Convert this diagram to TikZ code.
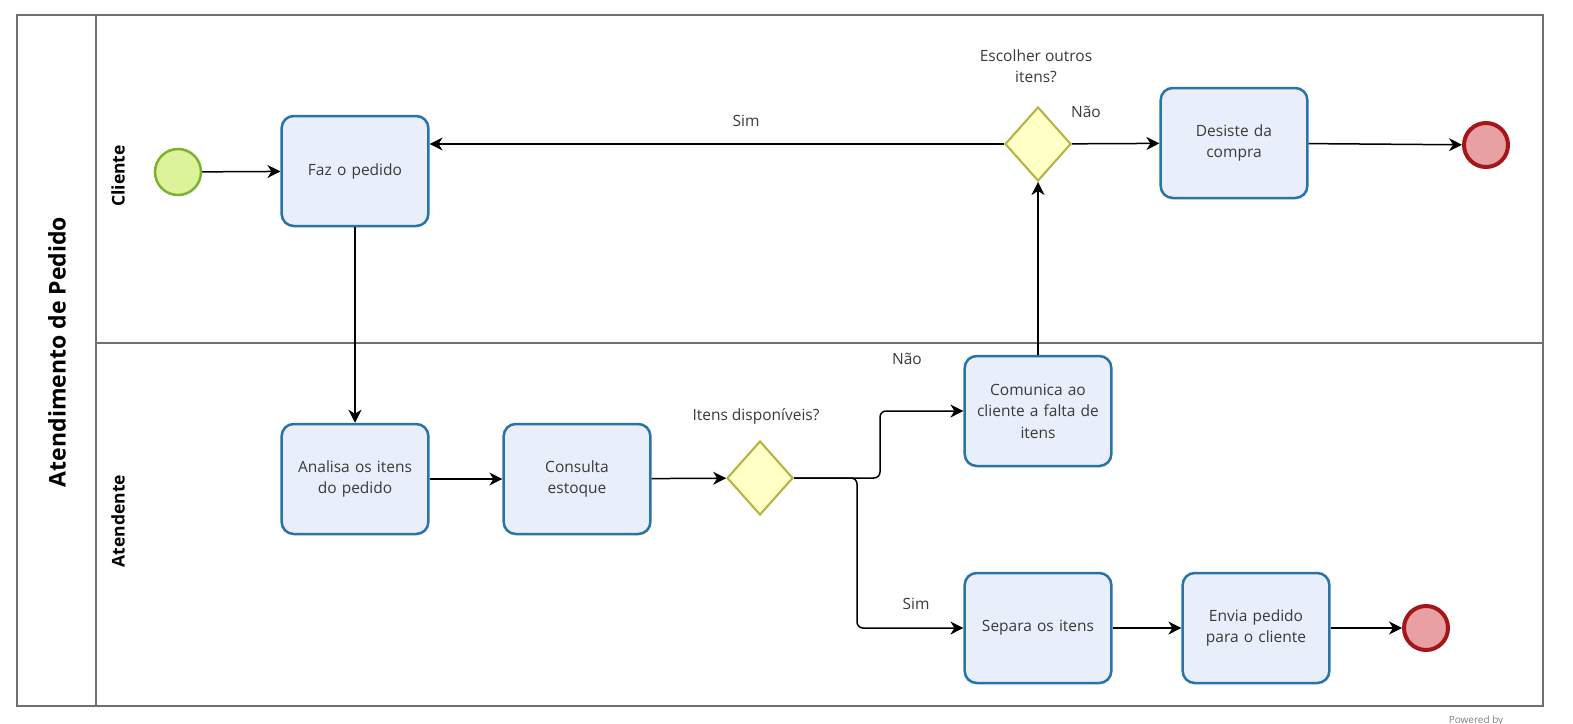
\documentclass[tikz,border=0pt]{standalone}
\usepackage{fontspec}
\setmainfont{Open Sans}
\usetikzlibrary{arrows.meta,shapes.geometric}
\definecolor{taskfill}{HTML}{E9EEFB}
\definecolor{taskdraw}{HTML}{2A73A6}
\definecolor{startfill}{HTML}{DDF39A}
\definecolor{startdraw}{HTML}{7BB233}
\definecolor{endfill}{HTML}{E8A0A2}
\definecolor{enddraw}{HTML}{A5161A}
\definecolor{gwfill}{HTML}{FFFFC6}
\definecolor{gwdraw}{HTML}{B3B33C}
\definecolor{txt}{HTML}{3A3A3A}
\definecolor{poolline}{HTML}{707070}
\tikzset{
  task/.style={draw=taskdraw, fill=taskfill, line width=2.5pt, rounded corners=12pt,
    minimum width=145pt, minimum height=110pt, text width=140pt, align=center,
    font=\fontsize{15.5}{21.5}\selectfont, text=txt},
  startev/.style={circle, draw=startdraw, fill=startfill, line width=2.5pt, minimum size=46pt, inner sep=0pt},
  endev/.style={circle, draw=enddraw, fill=endfill, line width=4pt, minimum size=44pt, inner sep=0pt},
  gw/.style={diamond, draw=gwdraw, fill=gwfill, line width=2pt, minimum width=66pt, minimum height=74pt, inner sep=0pt},
  lbl/.style={font=\fontsize{15.5}{21.5}\selectfont, text=txt, align=center},
  flow/.style={draw=black, line width=1.5pt, -{Stealth[length=13pt, width=13pt, inset=4pt]}},
  pool/.style={draw=poolline, line width=1.6pt},
  lanelbl/.style={font=\bfseries\fontsize{17.5}{20}\selectfont, rotate=90},
  poollbl/.style={font=\bfseries\fontsize{23}{27}\selectfont, rotate=90}
}
\begin{document}
\begin{tikzpicture}[x=1pt,y=-1pt]
\useasboundingbox (0,0) rectangle (1573,723);
\fill[white] (0,0) rectangle (1573,723);
% pool and lanes
\draw[pool] (17,15) rectangle (1543,706);
\draw[pool] (96,15) -- (96,706);
\draw[pool] (96,343) -- (1543,343);
\node[poollbl] (pl) at (57,352) {Atendimento de Pedido};
\node[lanelbl] (l1) at (118,176) {Cliente};
\node[lanelbl] (l2) at (118,521) {Atendente};

% Cliente lane
\node[startev] (start) at (178,172) {};
\node[task] (faz) at (355,171) {Faz o pedido};
\node[gw] (gw1) at (1038,144) {};
\node[lbl] (gw1l) at (1036,66) {Escolher outros\\itens?};
\node[task] (desiste) at (1234,143) {Desiste da\\compra};
\node[endev] (end1) at (1486,145) {};

% Atendente lane
\node[task] (analisa) at (355,479) {Analisa os itens\\do pedido};
\node[task] (consulta) at (577,479) {Consulta\\estoque};
\node[gw] (gw2) at (760,478) {};
\node[lbl] (gw2l) at (756,416) {Itens disponíveis?};
\node[task] (comunica) at (1038,411) {Comunica ao\\cliente a falta de\\itens};
\node[task] (separa) at (1038,628) {Separa os itens};
\node[task] (envia) at (1256,628) {Envia pedido\\para o cliente};
\node[endev] (end2) at (1426,628) {};

% flows
\draw[flow] (start) -- (faz);
\draw[flow] (faz) -- (analisa);
\draw[flow] (analisa) -- (consulta);
\draw[flow] (consulta) -- (gw2);
\draw[flow, rounded corners=6pt] (gw2.east) -- ++(86,0) |- (comunica.west);
\draw[flow, rounded corners=6pt] (gw2.east) -- ++(63,0) |- (separa.west);
\draw[flow] (separa) -- (envia);
\draw[flow] (envia) -- (end2);
\draw[flow] (comunica) -- (gw1);
\draw[flow] (gw1.west) -- (faz.east |- gw1.west);
\draw[flow] (gw1) -- (desiste);
\draw[flow] (desiste) -- (end1);

% flow labels
\node[lbl] (sim1) at (746,121) {Sim};
\node[lbl] (nao1) at (1086,112) {Não};
\node[lbl] (nao2) at (907,359) {Não};
\node[lbl] (sim2) at (916,604) {Sim};
\node[font=\fontsize{10}{12}\selectfont, text=gray] (pw) at (1476,721) {Powered by};
\end{tikzpicture}
\end{document}
